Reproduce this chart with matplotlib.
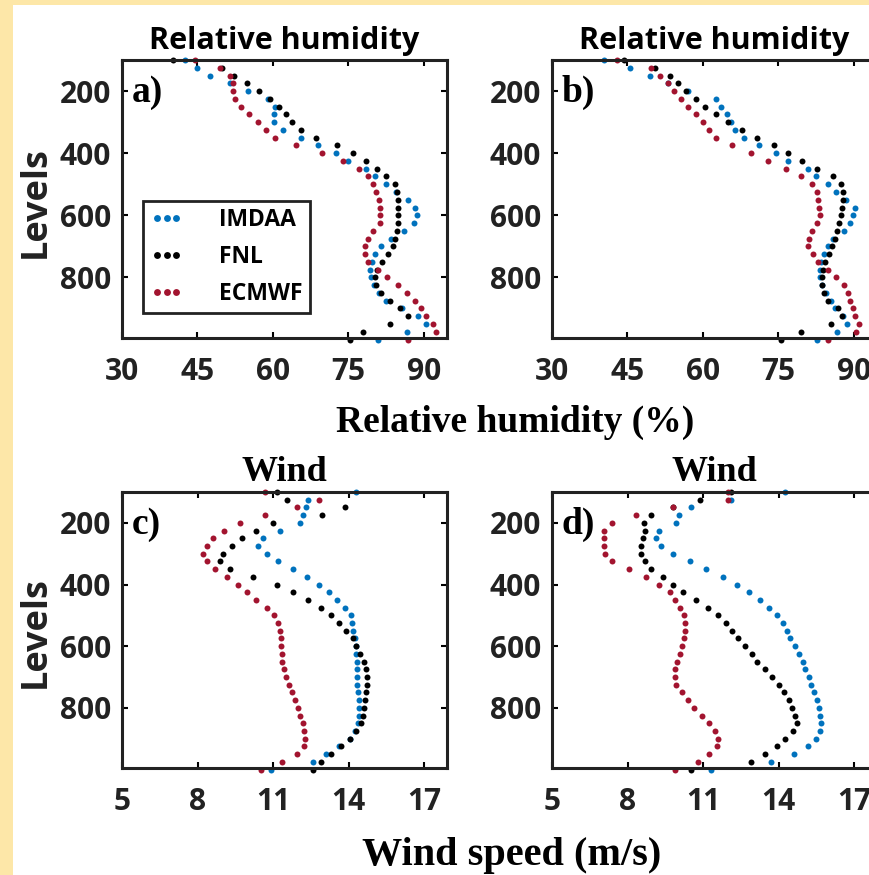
import numpy as np
import matplotlib
matplotlib.use("Agg")
import matplotlib.pyplot as plt
from matplotlib.patches import Rectangle

# pressure levels (hPa)
levels = np.arange(100, 1001, 25)

# relative humidity (%) - panel a
rh_a_imdaa = [42.5, 45, 47.5, 51.5, 55, 59, 60.5, 60.3, 60.3, 62, 65.5, 69, 72.5,
              75, 78.5, 80.3, 82.5, 84.5, 86.8, 88.3, 88.6, 88, 86, 83.5, 81.5,
              80.3, 79.6, 79.3, 79.5, 80, 81, 82.5, 85.6, 88.8, 90.5, 86.6, 80.9]
rh_a_fnl = [40.2, 49.8, 52.3, 54.8, 57.3, 59.5, 61.2, 62.5, 63.8, 65.5, 68.5, 72.8, 76,
            78.5, 80.7, 82.5, 84.2, 84.6, 84.8, 84.9, 84.9, 84.8, 84.7, 84.3, 83.8,
            82.8, 81.6, 80.7, 80.3, 80.5, 81.5, 83.2, 85.3, 86.9, 83.2, 78, 75.3]
rh_a_ecmwf = [44.5, 49.5, 51.5, 52.1, 52.1, 52.5, 53.6, 55.3, 57, 58.6, 60.5, 64.5, 69.8,
              74, 77.1, 78.8, 79.8, 80.5, 81, 81.3, 81.3, 81.2, 79.9, 78.9, 78.4,
              78.3, 78.9, 80.8, 82.7, 84.8, 86.6, 88.2, 89.5, 90.4, 91.8, 92.5, 86.9]

# relative humidity (%) - panel b
rh_b_imdaa = [40.3, 45.5, 49.5, 53, 57, 62.5, 63.5, 64.8, 65.5, 66.3, 68.2, 71.2, 74.5,
              77, 80.8, 82.5, 84.8, 86.5, 88.5, 90.2, 89.9, 89.3, 88, 85.8, 84.8,
              84, 83.5, 83.3, 83.3, 83.7, 84.5, 85.5, 86.2, 87.8, 88.6, 86.6, 82.6]
rh_b_fnl = [44.3, 50.5, 53.5, 55, 56.6, 58.7, 60.4, 62.6, 64.9, 67.7, 70.7, 74.2, 77,
            79.6, 82.7, 85.9, 87.5, 87.8, 87.9, 87.7, 87.4, 87, 86.6, 86.2, 85.6,
            85, 84.3, 83.8, 83.6, 83.6, 84, 84.9, 86.8, 87.6, 85.5, 79.5, 75.6]
rh_b_ecmwf = [42.9, 49.6, 51.4, 53, 54.3, 55.7, 57.1, 58.7, 60, 61.2, 62.6, 65.8, 69.5,
              72.9, 76.6, 79.4, 81.6, 82.6, 82.9, 83.1, 83.2, 82.6, 81.6, 81, 80.8,
              81.8, 82.9, 84.8, 86.5, 88, 88.8, 89.3, 89.8, 90.3, 91, 90.5, 84.9]

# wind speed (m/s) - panel c
ws_c_imdaa = [14.3, 12.4, 12.3, 12.2, 12.07, 11.28, 10.6, 10.4, 10.75, 11.2, 11.8, 12.33, 12.8,
              13.2, 13.55, 13.85, 14.07, 14.14, 14.18, 14.24, 14.27, 14.3, 14.32, 14.32, 14.32,
              14.33, 14.36, 14.39, 14.39, 14.39, 14.35, 14.25, 14.05, 13.6, 13.1, 12.6, 10.9]
ws_c_fnl = [11.15, 11.54, 13.86, 12.93, 11, 10.3, 9.75, 9.35, 9.0, 8.9, 9.3, 10.2, 11.15,
            11.8, 12.4, 12.9, 13.3, 13.6, 13.9, 14.15, 14.3, 14.45, 14.6, 14.68, 14.72,
            14.72, 14.7, 14.66, 14.62, 14.58, 14.48, 14.3, 14.05, 13.7, 13.3, 12.9, 12.6]
ws_c_ecmwf = [10.68, 12.8, 11.94, 10.68, 9.69, 9.03, 8.63, 8.36, 8.23, 8.36, 8.7, 9.16, 9.62,
              9.95, 10.3, 10.75, 11.05, 11.2, 11.26, 11.3, 11.33, 11.34, 11.34, 11.42, 11.52,
              11.64, 11.75, 11.86, 11.97, 12.08, 12.17, 12.24, 12.27, 12.22, 11.95, 11.35, 10.5]

# wind speed (m/s) - panel d
ws_d_imdaa = [14.26, 12.1, 10.5, 10.05, 9.93, 9.25, 9.13, 9.33, 9.8, 10.47, 11.13, 11.8, 12.33,
              12.8, 13.25, 13.6, 13.93, 14.15, 14.33, 14.45, 14.65, 14.8, 14.95, 15.05, 15.2,
              15.3, 15.4, 15.5, 15.58, 15.63, 15.67, 15.63, 15.48, 15.15, 14.6, 13.7, 11.3]
ws_d_fnl = [12.1, 10.87, 9.8, 8.93, 8.65, 8.7, 8.6, 8.55, 8.53, 8.7, 8.93, 9.4, 9.8,
            10.2, 10.7, 11.2, 11.6, 11.9, 12.15, 12.38, 12.65, 12.95, 13.15, 13.45, 13.75,
            14.0, 14.22, 14.4, 14.53, 14.65, 14.73, 14.55, 14.25, 13.95, 13.45, 12.9, 10.5]
ws_d_ecmwf = [12.0, 12.0, 9.8, 8.33, 7.4, 7.07, 7.07, 7.07, 7.1, 7.4, 8.07, 8.73, 9.25,
              9.67, 9.9, 10.1, 10.22, 10.26, 10.27, 10.22, 10.16, 10.07, 9.98, 9.88, 9.88,
              9.93, 10.15, 10.38, 10.65, 10.95, 11.22, 11.48, 11.58, 11.55, 11.25, 10.8, 9.9]

names = ["IMDAA", "FNL", "ECMWF"]
colors = ["#0072BD", "#000000", "#A2142F"]

sans = ["Open Sans", "DejaVu Sans"]
serif = ["Liberation Serif", "DejaVu Serif"]

fig = plt.figure(figsize=(8.69, 8.75), dpi=100)
fig.patch.set_facecolor("#FDE7A8")
fig.add_artist(Rectangle((13 / 869, 0), 1, 1 - 5 / 875, transform=fig.transFigure,
                         facecolor="white", edgecolor="none", zorder=-5))

W, H = 869, 875
def pos(left, top, right, bottom):
    return [left / W, 1 - bottom / H, (right - left) / W, (bottom - top) / H]

panels = [
    (pos(122, 60, 447, 338), [rh_a_imdaa, rh_a_fnl, rh_a_ecmwf], "a)", "Relative humidity", (30, 94.6), np.arange(30, 91, 15)),
    (pos(552, 60, 877, 338), [rh_b_imdaa, rh_b_fnl, rh_b_ecmwf], "b)", "Relative humidity", (30, 94.6), np.arange(30, 91, 15)),
    (pos(122, 492, 447, 768), [ws_c_imdaa, ws_c_fnl, ws_c_ecmwf], "c)", "Wind", (5, 17.9), np.arange(5, 18, 3)),
    (pos(552, 492, 877, 768), [ws_d_imdaa, ws_d_fnl, ws_d_ecmwf], "d)", "Wind", (5, 17.9), np.arange(5, 18, 3)),
]

for i, (rect, series, lab, title, xlim, xticks) in enumerate(panels):
    ax = fig.add_axes(rect)
    for vals, name, c in zip(series, names, colors):
        ax.plot(vals, levels, linestyle="none", marker="o", markersize=4.3,
                markeredgewidth=0, color=c, label=name, clip_on=False)
    ax.set_xlim(*xlim)
    ax.set_ylim(995, 100)
    ax.set_xticks(xticks)
    ax.set_yticks([200, 400, 600, 800])
    ax.tick_params(direction="in", top=True, right=True, length=4, width=1.5,
                   labelsize=21.5)
    ax.tick_params(axis="x", pad=14)
    ax.tick_params(axis="y", pad=8)
    for t in ax.get_xticklabels() + ax.get_yticklabels():
        t.set_family(sans)
        t.set_fontweight("bold")
        t.set_color("#222222")
    for s in ax.spines.values():
        s.set_linewidth(2.2)
        s.set_color("#222222")
    ax.text(0.03, 0.85, lab, transform=ax.transAxes, fontsize=27,
            family=serif, fontweight="bold", va="baseline")
    if title == "Wind":
        ax.set_title(title, family=serif, fontweight="bold", fontsize=26, pad=8)
    else:
        ax.set_title(title, family=sans, fontweight="bold", fontsize=22, pad=8)
    if i == 0:
        leg = ax.legend(loc="lower left", bbox_to_anchor=(0.065, 0.09), borderaxespad=0,
                        numpoints=3, markerscale=1.15, handlelength=1.4, handletextpad=1.6,
                        borderpad=0.32, labelspacing=0.56, fancybox=False,
                        prop={"family": sans, "weight": "bold", "size": 16.5})
        leg.get_frame().set_edgecolor("#222222")
        leg.get_frame().set_linewidth(2)
        leg.get_frame().set_alpha(1)

fig.text(36 / W, 1 - 202 / H, "Levels", rotation=90, ha="center", va="center",
         family=sans, fontweight="bold", fontsize=26, color="#222222")
fig.text(36 / W, 1 - 632 / H, "Levels", rotation=90, ha="center", va="center",
         family=sans, fontweight="bold", fontsize=26, color="#222222")
fig.text(515 / W, 1 - 432 / H, "Relative humidity (%)", ha="center", va="baseline",
         family=serif, fontweight="bold", fontsize=27)
fig.text(512 / W, 1 - 865 / H, "Wind speed (m/s)", ha="center", va="baseline",
         family=serif, fontweight="bold", fontsize=29)

fig.savefig("out.png", dpi=100, facecolor=fig.get_facecolor())
